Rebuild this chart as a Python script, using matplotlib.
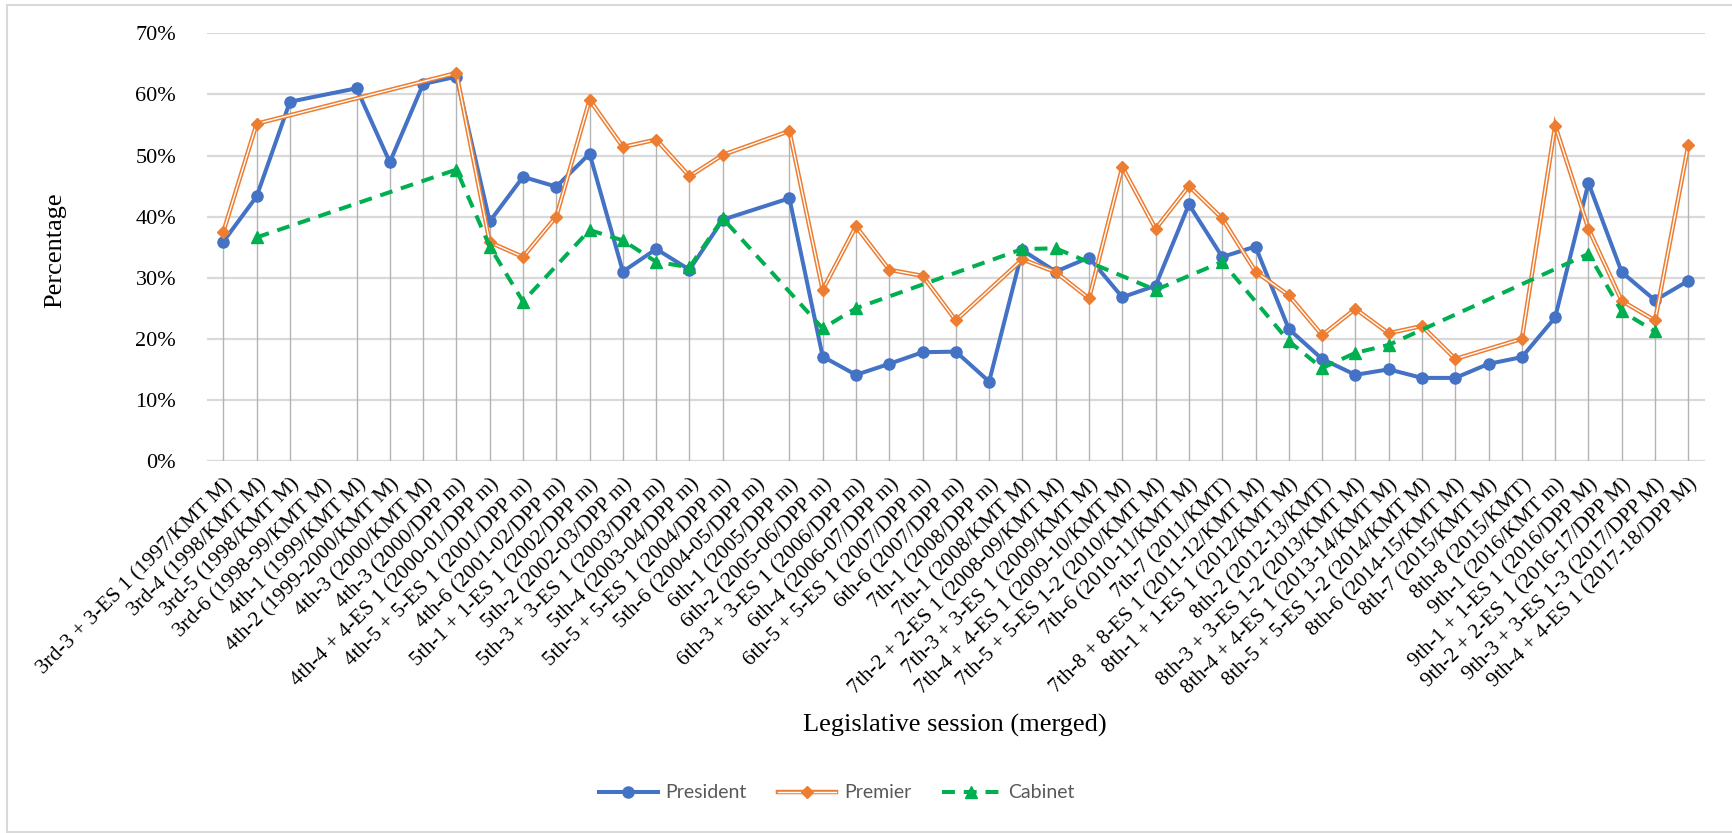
import numpy as np
import matplotlib
matplotlib.use("Agg")
import matplotlib.pyplot as plt
from matplotlib.lines import Line2D
from matplotlib.legend_handler import HandlerTuple
from matplotlib.ticker import PercentFormatter

nan = np.nan

sessions = [
    "3rd-3 + 3-ES 1 (1997/KMT M)",
    "3rd-4 (1998/KMT M)",
    "3rd-5 (1998/KMT M)",
    "3rd-6 (1998-99/KMT M)",
    "4th-1 (1999/KMT M)",
    "4th-2 (1999-2000/KMT M)",
    "4th-3 (2000/KMT M)",
    "4th-3 (2000/DPP m)",
    "4th-4 + 4-ES 1 (2000-01/DPP m)",
    "4th-5 + 5-ES 1 (2001/DPP m)",
    "4th-6 (2001-02/DPP m)",
    "5th-1 + 1-ES 1 (2002/DPP m)",
    "5th-2 (2002-03/DPP m)",
    "5th-3 + 3-ES 1 (2003/DPP m)",
    "5th-4 (2003-04/DPP m)",
    "5th-5 + 5-ES 1 (2004/DPP m)",
    "5th-6 (2004-05/DPP m)",
    "6th-1 (2005/DPP m)",
    "6th-2 (2005-06/DPP m)",
    "6th-3 + 3-ES 1 (2006/DPP m)",
    "6th-4 (2006-07/DPP m)",
    "6th-5 + 5-ES 1 (2007/DPP m)",
    "6th-6 (2007/DPP m)",
    "7th-1 (2008/DPP m)",
    "7th-1 (2008/KMT M)",
    "7th-2 + 2-ES 1 (2008-09/KMT M)",
    "7th-3 + 3-ES 1 (2009/KMT M)",
    "7th-4 + 4-ES 1 (2009-10/KMT M)",
    "7th-5 + 5-ES 1-2 (2010/KMT M)",
    "7th-6 (2010-11/KMT M)",
    "7th-7 (2011/KMT)",
    "7th-8 + 8-ES 1 (2011-12/KMT M)",
    "8th-1 + 1-ES 1 (2012/KMT M)",
    "8th-2 (2012-13/KMT)",
    "8th-3 + 3-ES 1-2 (2013/KMT M)",
    "8th-4 + 4-ES 1 (2013-14/KMT M)",
    "8th-5 + 5-ES 1-2 (2014/KMT M)",
    "8th-6 (2014-15/KMT M)",
    "8th-7 (2015/KMT M)",
    "8th-8 (2015/KMT)",
    "9th-1 (2016/KMT m)",
    "9th-1 + 1-ES 1 (2016/DPP M)",
    "9th-2 + 2-ES 1 (2016-17/DPP M)",
    "9th-3 + 3-ES 1-3 (2017/DPP M)",
    "9th-4 + 4-ES 1 (2017-18/DPP M)",
]

# Shares (%) per session; NaN = no observation for that session
president = [
    35.9, 43.3, 58.8, nan, 61.0, 48.9, 61.7, 62.9, 39.2, 46.5,
    44.9, 50.3, 31.0, 34.7, 31.3, 39.5, nan, 43.0, 17.1, 14.1,
    15.9, 17.8, 17.9, 13.0, 34.5, 31.0, 33.3, 26.8, 28.7, 42.0,
    33.4, 35.1, 21.6, 16.7, 14.1, 15.0, 13.6, 13.6, 15.9, 17.0,
    23.5, 45.5, 30.9, 26.3, 29.5,
]
premier = [
    37.5, 55.2, nan, nan, nan, nan, nan, 63.5, 35.8, 33.4,
    40.0, 59.1, 51.4, 52.6, 46.6, 50.1, nan, 54.0, 28.0, 38.4,
    31.3, 30.3, 23.0, nan, 33.0, 30.9, 26.6, 48.1, 38.0, 45.0,
    39.7, 31.0, 27.1, 20.6, 24.9, 20.9, 22.1, 16.7, nan, 20.0,
    54.9, 38.0, 26.2, 23.0, 51.7,
]
cabinet = [
    nan, 36.6, nan, nan, nan, nan, nan, 47.7, 35.1, 26.1,
    nan, 37.8, 36.1, 32.6, 31.7, 39.7, nan, nan, 21.7, 25.0,
    nan, nan, nan, nan, 34.7, 34.8, nan, nan, 28.0, nan,
    32.6, nan, 19.6, 15.2, 17.7, 19.0, nan, nan, nan, nan,
    nan, 33.9, 24.5, 21.2, nan,
]

BLUE = "#4472C4"
ORANGE = "#ED7D31"
GREEN = "#00B050"
GRID = "#D9D9D9"
DROP = "#B4B4B4"

SERIF = ["Liberation Serif", "DejaVu Serif"]
SANS = ["Lato", "Liberation Sans", "DejaVu Sans"]

W, H, DPI = 1732, 833, 100
fig = plt.figure(figsize=(W / DPI, H / DPI), dpi=DPI)
fig.patch.set_facecolor("white")

left, right, top, bottom = 206.7, 1705.0, 33.3, 461.0
ax = fig.add_axes([left / W, 1 - bottom / H, (right - left) / W, (bottom - top) / H])

x = np.arange(1, len(sessions) + 1)
P = np.array(president, dtype=float) / 100
R = np.array(premier, dtype=float) / 100
C = np.array(cabinet, dtype=float) / 100

# horizontal gridlines
for v in np.arange(0, 0.71, 0.1):
    ax.axhline(v, color=GRID, lw=1.6, zorder=0)

# drop lines from the highest point of each session down to the axis
tops = np.nanmax(np.vstack([P, R, C]), axis=0)
has = ~np.isnan(tops)
ax.vlines(x[has], 0, tops[has], color=DROP, lw=1.0, zorder=1)

def valid(arr):
    m = ~np.isnan(arr)
    return x[m], arr[m]

px, py = valid(P)
ax.plot(px, py, color=BLUE, lw=2.9, marker="o", ms=8, mfc=BLUE, mec=BLUE,
        solid_joinstyle="round", zorder=3)

rx, ry = valid(R)
ax.plot(rx, ry, color=ORANGE, lw=3.2, zorder=4, solid_joinstyle="miter")
ax.plot(rx, ry, color="white", lw=1.0, zorder=4.1, solid_joinstyle="miter")
ax.plot(rx, ry, ls="none", marker="D", ms=6.5, mfc=ORANGE, mec=ORANGE, zorder=4.2)

cx, cy = valid(C)
cab_line, = ax.plot(cx, cy, color=GREEN, lw=2.9, marker="^", ms=9,
                    mfc=GREEN, mec=GREEN, zorder=5)
cab_line.set_dashes([3.2, 2.2])

ax.set_xlim(0.5, len(sessions) + 0.5)
ax.set_ylim(0, 0.7)
ax.set_yticks(np.arange(0, 0.71, 0.1))
ax.yaxis.set_major_formatter(PercentFormatter(1.0, decimals=0))
ax.set_xticks(x)
ax.set_xticklabels(sessions, rotation=45, ha="right", rotation_mode="anchor")
ax.tick_params(axis="both", length=0)
ax.tick_params(axis="y", pad=22)
ax.tick_params(axis="x", pad=10)
for lab in ax.get_yticklabels():
    lab.set_fontfamily(SERIF)
    lab.set_fontsize(16)
for lab in ax.get_xticklabels():
    lab.set_fontfamily(SERIF)
    lab.set_fontsize(15.5)
for s in ax.spines.values():
    s.set_visible(False)

fig.text(955 / W, 1 - 725 / H, "Legislative session (merged)", family=SERIF,
         fontsize=19, ha="center", va="center")
fig.text(55 / W, 1 - 250 / H, "Percentage", family=SERIF, fontsize=19,
         rotation=90, ha="center", va="center")

# legend
h_pres = Line2D([], [], color=BLUE, lw=2.9, marker="o", ms=8)
h_prem = (Line2D([], [], color=ORANGE, lw=3.2),
          Line2D([], [], color="white", lw=1.0),
          Line2D([], [], ls="none", marker="D", ms=6.5, color=ORANGE))
h_cab = Line2D([], [], color=GREEN, lw=2.9, marker="^", ms=9)
h_cab.set_dashes([3.2, 2.2])
leg = fig.legend([h_pres, h_prem, h_cab], ["President", "Premier", "Cabinet"],
                 handler_map={tuple: HandlerTuple(ndivide=1, pad=0)},
                 loc="center", bbox_to_anchor=(837 / W, 1 - 793 / H), ncol=3,
                 frameon=False, handlelength=3.0, columnspacing=1.6,
                 handletextpad=0.4, prop={"family": SANS, "size": 14})
for t in leg.get_texts():
    t.set_color("#595959")

# chart-area border
border = dict(color=GRID, lw=1.5, transform=fig.transFigure, zorder=10)
fig.add_artist(Line2D([6.5 / W, 6.5 / W], [1 - 4.5 / H, 1 - 831.5 / H], **border))
fig.add_artist(Line2D([6.5 / W, 1.0], [1 - 4.5 / H, 1 - 4.5 / H], **border))
fig.add_artist(Line2D([6.5 / W, 1.0], [1 - 831.5 / H, 1 - 831.5 / H], **border))

fig.savefig("out.png", dpi=DPI, facecolor="white")
